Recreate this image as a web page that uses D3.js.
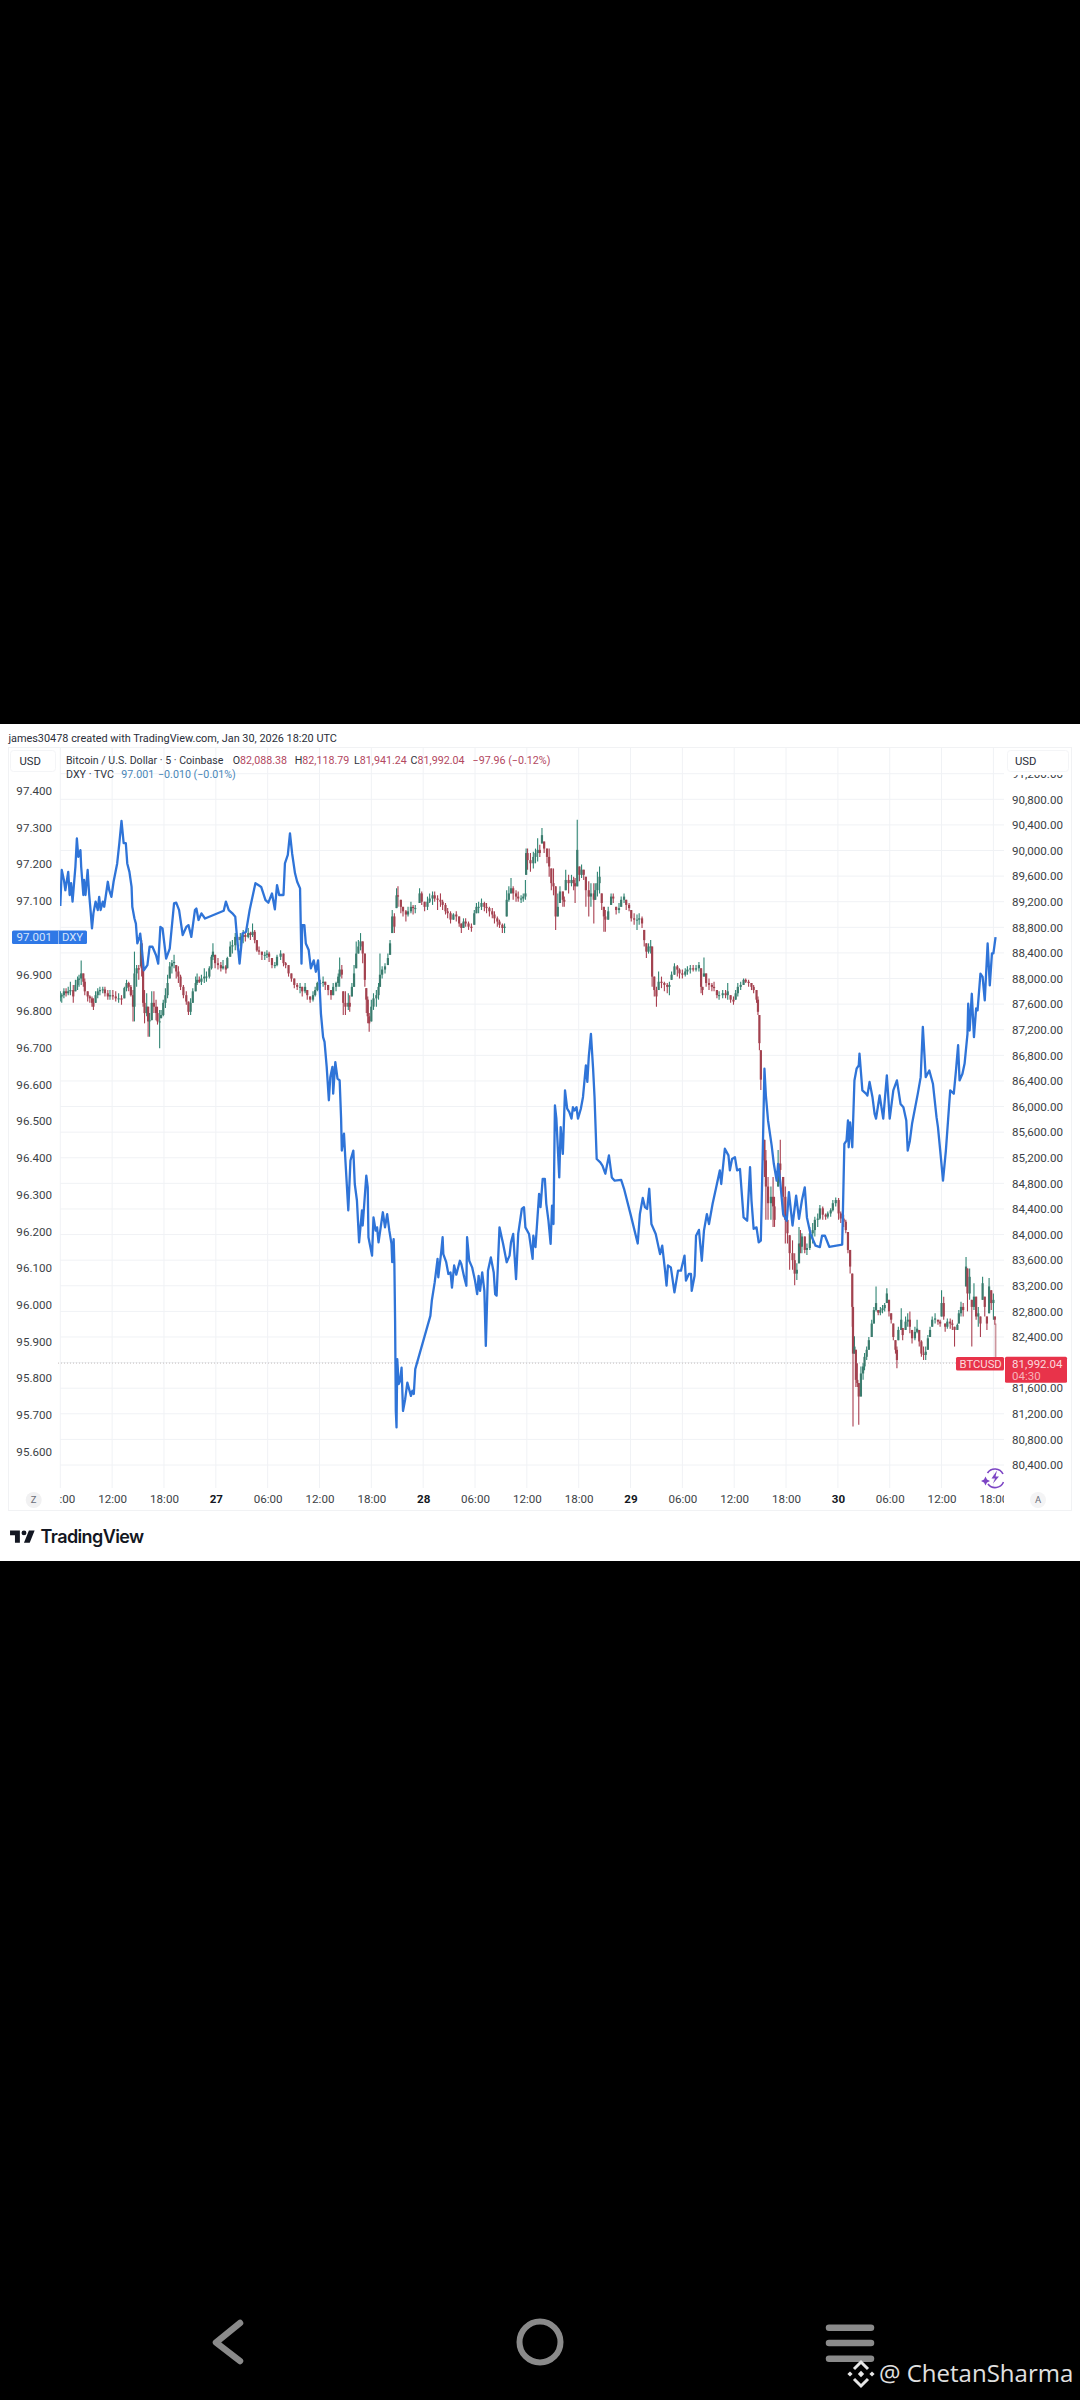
<!DOCTYPE html>
<html>
<head>
<meta charset="utf-8">
<style>
	html, body { margin: 0; padding: 0; background: #000; }
	svg { display: block; font-family: Roboto, "Liberation Sans", sans-serif; }
	.axis path, .axis line { display: none; }
	.axis text { fill: #3c3f46; font-family: Roboto, sans-serif; font-size: 11.6px; }
</style>
<script src="https://cdnjs.cloudflare.com/ajax/libs/d3/7.8.5/d3.min.js"></script>
</head>
<body>
<svg width="1080" height="2400"></svg>
<script>
// bar number = 5 minute bars counted from Jan 26 06:00
var btcBar = [
	0,2,5,8,11,14,18,21,24,26,
	29,32,34,38,41,44,46,49,52,55,
	59,62,66,69,73,77,81,85,89,92,
	95,98,101,103,106,109,112,113,115,117,
	120,122,124,127,130,133,135,138,140,143,
	146,149,152,155,158,161,164,167,171,175,
	178,181,184,188,190,193,196,200,203,207,
	210,212,215,219,223,226,230,232,236,239,
	243,246,250,254,257,261,264,267,270,273,
	276,280,284,287,290,294,298,301,306,310,
	313,317,321,325,329,333,336,340,343,347,
	351,354,357,361,365,368,372,376,379,383,
	386,388,391,393,396,400,402,405,408,411,
	414,417,420,423,425,427,429,432,435,439,
	442,444,447,451,455,458,461,464,467,469,
	473,476,480,483,487,490,493,499,502,506,
	510,513,517,520,524,528,531,535,538,542,
	546,550,554,557,560,563,567,571,575,578,
	581,585,589,592,596,600,603,607,610,614,
	617,620,623,626,629,633,636,640,643,646,
	647,649,653,657,660,663,666,669,672,676,
	679,682,685,688,691,694,698,700,702,706,
	710,713,715,718,721,724,727,730,734,737,
	741,743,746,749,752,755,757,761,765,768,
	772,776,779,783,786,790,793,797,801,804,
	808,811,814,817,820,822,825,828,831,835,
	839,843,846,849,853,857,860,864,868,871,
	875,879,883,887,890,892,894,897,901,905,
	908,912,915,920,924,927,931,935,938,941,
	945,949,952,956,960,963,967,969,971,973,
	978,980,983,987,990,992,997,1000,1004,1007,
	1010,1013,1017,1020,1023,1026,1028,1030,1034,1037,
	1041,1045,1048,1052,1055,1059,1063,1066,1070,1073,
	1077,1081,1084,1088,1091,1094,1097,1100,1101,1103,
	1105,1107,1109,1112,1115,1117,1120,1123,1127,1130,
	1133,1136,1139,1142,1145,1148,1151,1154,1157,1160,
	1162,1164,1168,1170,1174,1177,1180,1183,1187,1190,
	1193,1196,1199,1202,1205,1208,1211,1215,1219,1222,
	1224,1227,1229,1232,1236,1239,1242,1246,1248,1251,
	1254,1258,1260,1263,1266,1269,1272,1275,1278,1281,
	1284,1287,1290,1293,1296,1298,1299
];
var btcHigh = [
	87800,87770,87850,87850,87870,87950,87900,87980,88030,88060,
	88280,88080,88000,87800,87740,87720,87690,87800,87850,87870,
	87870,87870,87820,87820,87820,87800,87770,87740,87870,87980,
	87950,87900,87820,88420,88210,88210,88630,88600,88190,87820,
	87770,87560,87460,87800,87800,87670,87560,87510,87510,87670,
	87850,88060,88260,88290,88370,88210,88190,88060,87900,87800,
	87640,87690,87850,88030,88080,88030,88060,88160,88110,88190,
	88370,88550,88370,88320,88260,88290,88210,88340,88580,88600,
	88710,88680,88710,88760,88730,88790,88730,88860,88760,88600,
	88500,88420,88420,88440,88420,88320,88260,88370,88440,88390,
	88260,88210,88080,88000,87930,87930,87870,87930,87820,87720,
	87800,87870,87950,87980,88030,87950,87900,87820,87930,87950,
	88080,88330,88210,87800,87800,87770,87740,87930,88210,88580,
	88600,88710,88580,88390,87850,87720,87460,87670,87770,87820,
	87930,88390,88190,88240,88390,88600,89070,89020,89410,89440,
	89230,89120,89070,89120,89200,89150,89150,89410,89360,89200,
	89280,89330,89360,89360,89300,89330,89230,89180,89100,89050,
	89020,89050,88970,88860,88940,88940,88890,88860,89070,89180,
	89200,89250,89200,89180,89120,89100,89050,88970,88920,88860,
	88860,89380,89440,89570,89440,89380,89360,89300,89330,89540,
	90030,90030,89960,89980,90030,90190,90090,90350,90140,90030,
	90030,89720,89720,89440,89330,89440,89360,89280,89700,89620,
	89620,89590,89570,90480,89750,89780,89700,89590,89520,89490,
	89490,89490,89670,89750,89330,89120,89070,89120,89330,89330,
	89120,89180,89280,89330,89230,89180,89070,89020,89000,89020,
	88970,88760,88550,88550,88600,88500,88030,87870,88110,88030,
	87950,87930,87950,88110,88240,88210,88160,88140,88160,88190,
	88210,88210,88210,88260,88160,87870,88330,88080,88000,87930,
	87950,87820,87800,87820,87820,87930,87740,87720,87820,87930,
	87950,88000,88000,87980,87930,87900,87820,87720,87430,86880,
	85480,85320,84900,84750,84900,84590,85320,85480,84900,84750,
	84230,83990,83910,83710,83550,84120,84070,84020,83970,83860,
	84120,84180,84280,84330,84460,84440,84330,84360,84410,84540,
	84580,84570,84360,84310,84230,84040,83760,83390,82870,82410,
	82200,81990,81680,81940,81990,82150,82250,82400,82670,82870,
	83190,82820,82870,82900,82930,83160,82980,82770,82610,82350,
	82250,82560,82850,82540,82720,82770,82800,82510,82560,82670,
	82510,82350,82250,82250,82430,82560,82720,82770,82670,82670,
	83130,83030,82610,82690,82690,82670,82560,82610,82820,82950,
	82930,83650,83470,83470,82980,83240,83030,82870,82720,83340,
	83030,82720,83320,83130,83080,82720,82610
];
var btcLow = [
	87640,87620,87690,87720,87740,87740,87620,87800,87820,87870,
	87900,87870,87740,87640,87620,87560,87510,87620,87690,87740,
	87770,87720,87670,87670,87670,87640,87620,87590,87690,87800,
	87800,87720,87330,87330,87870,87980,88190,88030,87560,87300,
	87410,87090,87090,87350,87460,87350,87280,86910,87380,87410,
	87540,87690,88000,88080,88160,88000,87930,87820,87690,87590,
	87430,87430,87620,87800,87900,87930,87900,87930,87950,88000,
	88140,88290,88160,88140,88110,88140,88080,88160,88340,88390,
	88440,88440,88500,88550,88580,88630,88600,88650,88550,88420,
	88370,88290,88290,88320,88260,88160,88160,88190,88290,88190,
	88160,88030,87950,87850,87820,87770,87720,87770,87670,87620,
	87640,87720,87800,87850,87870,87820,87740,87670,87740,87800,
	87870,87870,88000,87430,87430,87510,87480,87720,87870,88160,
	88390,88440,88240,87870,87460,87300,87170,87330,87510,87560,
	87670,87870,88000,88080,88210,88370,88710,88710,89100,89120,
	89020,88970,88890,88970,89020,89000,89020,89180,89150,89050,
	89070,89180,89150,89200,89070,89120,89070,89000,88940,88860,
	88920,88890,88810,88710,88790,88810,88760,88730,88840,89020,
	89020,89070,89050,89020,88970,88940,88860,88810,88790,88710,
	88710,88970,89200,89330,89230,89200,89200,89180,89200,89230,
	89620,89700,89670,89720,89800,89830,89900,90110,89960,89800,
	89590,89380,89300,88760,88970,89180,89120,89120,89380,89330,
	89440,89380,89180,89440,89520,89570,89540,89120,88970,89120,
	88860,89230,89280,89330,89070,88730,88730,88920,89150,89180,
	89000,89020,89120,89180,89070,89050,88890,88840,88760,88840,
	88790,88500,88320,88390,88390,87870,87720,87560,87820,87850,
	87800,87770,87740,87980,88060,88030,88000,88000,88030,88060,
	88080,88110,88110,88110,87770,87740,88030,87870,87820,87800,
	87800,87690,87670,87690,87690,87670,87620,87590,87670,87720,
	87820,87900,87930,87870,87820,87770,87620,87430,86880,86260,
	84900,84230,84230,84230,84120,84120,84750,84800,84280,83860,
	83860,83450,83450,83210,83290,83550,83710,83710,83710,83680,
	83760,83860,83970,84120,84230,84230,84230,84250,84280,84360,
	84440,84230,84180,84120,84020,83710,83390,82560,81000,82140,
	81620,81620,81030,81470,81730,81880,82040,82200,82400,82610,
	82800,82740,82740,82770,82800,82930,82720,82610,82350,82140,
	81910,82350,82510,82350,82510,82560,82460,82300,82350,82460,
	82250,82090,82040,82040,82200,82400,82560,82610,82590,82560,
	82720,82670,82480,82530,82530,82510,82250,82510,82610,82720,
	82720,83190,82800,82980,82250,82820,82670,82560,82400,82980,
	82720,82510,82770,82820,82670,82590,81941
];
var btcClose = [
	87720,87740,87800,87770,87800,87820,87720,87900,87980,88000,
	88080,87950,87800,87720,87690,87620,87560,87740,87800,87820,
	87830,87770,87720,87740,87720,87690,87690,87670,87850,87930,
	87870,87740,87560,88080,88160,88140,88550,88160,87620,87460,
	87560,87330,87350,87620,87560,87460,87330,87330,87430,87620,
	87740,87930,88190,88240,88260,88110,88030,87870,87740,87640,
	87480,87620,87800,87930,87980,87950,88000,88030,88030,88160,
	88340,88420,88240,88210,88160,88190,88140,88320,88500,88520,
	88650,88600,88650,88680,88650,88710,88680,88730,88600,88440,
	88420,88370,88370,88390,88340,88210,88210,88340,88390,88240,
	88210,88080,88000,87900,87870,87870,87800,87870,87740,87670,
	87740,87820,87930,87930,87950,87900,87820,87740,87870,87930,
	88030,88140,88060,87620,87560,87620,87560,87870,88080,88390,
	88500,88580,88390,87980,87670,87410,87300,87560,87690,87740,
	87870,88060,88140,88190,88320,88550,88970,88810,89300,89280,
	89120,89050,89000,89050,89120,89100,89100,89330,89200,89120,
	89200,89250,89300,89250,89230,89200,89150,89050,89020,88920,
	89000,88970,88860,88790,88890,88860,88810,88790,89020,89120,
	89120,89180,89120,89100,89050,89000,88940,88890,88840,88790,
	88810,89230,89330,89410,89330,89280,89250,89250,89280,89330,
	89960,89850,89800,89900,89960,90010,89960,90240,90030,89900,
	89750,89490,89440,88970,89120,89360,89230,89200,89540,89490,
	89540,89490,89440,90010,89620,89700,89620,89380,89280,89330,
	89230,89380,89490,89590,89180,88970,88920,89050,89280,89250,
	89070,89100,89230,89280,89150,89100,88940,88920,88920,88940,
	88860,88600,88420,88500,88500,88030,87820,87720,87950,87930,
	87900,87870,87900,88060,88190,88140,88080,88060,88110,88140,
	88160,88140,88160,88210,87870,87820,88080,87930,87900,87870,
	87850,87740,87740,87770,87740,87800,87670,87640,87770,87870,
	87900,87980,87950,87930,87870,87820,87670,87480,86990,86420,
	85160,84750,84490,84590,84440,84230,85110,85010,84590,84230,
	84020,83710,83600,83390,83450,83860,83810,83970,83760,83790,
	84020,84070,84230,84250,84410,84310,84280,84330,84380,84490,
	84540,84330,84250,84200,84070,83760,83500,82870,82140,82250,
	81730,81680,81470,81830,81940,82090,82200,82350,82610,82820,
	82930,82780,82820,82850,82900,83080,82800,82670,82400,82200,
	82040,82510,82670,82430,82640,82670,82560,82380,82480,82530,
	82330,82140,82120,82170,82380,82510,82670,82690,82640,82610,
	82930,82720,82560,82640,82610,82590,82510,82590,82770,82870,
	82820,83500,83080,83340,82870,83030,82720,82770,82610,83240,
	82870,82610,83190,82930,82980,82670,81992
];
var dxyBar = [
	0,2,5,7,11,13,15,17,21,23,
	25,28,29,32,33,35,38,40,42,44,
	46,49,52,54,56,59,61,66,68,71,
	74,79,82,85,88,91,93,96,99,100,
	103,105,107,110,111,113,116,121,124,128,
	133,136,139,142,147,152,158,161,165,170,
	175,178,182,187,189,192,196,201,227,230,
	234,239,243,245,249,253,258,263,271,275,
	279,285,289,294,298,301,304,310,312,316,
	319,322,326,329,333,334,335,336,339,341,
	345,348,352,355,358,360,362,365,367,370,
	373,375,378,379,382,385,388,390,391,394,
	396,400,403,407,409,412,415,419,420,425,
	427,428,433,435,438,440,442,445,448,451,
	454,457,460,461,463,464,465,466,467,468,
	470,472,474,476,479,482,487,489,491,493,
	514,516,520,524,525,529,531,532,536,539,
	542,544,547,550,555,557,561,564,565,568,
	572,576,579,581,583,586,589,591,594,598,
	602,604,606,610,613,615,620,624,626,629,
	633,636,641,644,646,651,656,657,660,665,
	667,670,673,675,678,681,683,685,687,689,
	693,695,698,701,704,707,710,712,714,717,
	719,723,726,730,732,734,737,740,742,745,
	750,753,757,762,766,770,779,783,792,802,
	805,809,812,815,818,821,827,833,836,840,
	842,844,848,853,858,862,867,869,873,876,
	877,881,883,887,891,894,898,901,906,911,
	916,918,923,928,930,933,937,940,944,949,
	954,958,960,963,967,970,973,976,978,980,
	983,988,991,995,997,1000,1004,1009,1012,1017,
	1022,1026,1030,1034,1037,1042,1049,1055,1058,1062,
	1068,1086,1089,1092,1094,1095,1097,1100,1103,1106,
	1109,1110,1114,1119,1121,1124,1128,1131,1133,1138,
	1143,1148,1152,1157,1162,1167,1171,1175,1177,1180,
	1183,1191,1195,1198,1202,1207,1212,1217,1219,1223,
	1226,1230,1233,1236,1241,1244,1247,1249,1253,1256,
	1260,1261,1263,1266,1269,1272,1274,1278,1281,1284,
	1288,1291,1294,1296,1299
];
var dxyValue = [
	97.086,97.184,97.157,97.129,97.179,97.116,97.148,97.098,97.193,97.270,
	97.220,97.238,97.193,97.116,97.157,97.116,97.184,97.120,97.075,97.025,
	97.066,97.098,97.075,97.111,97.075,97.098,97.084,97.152,97.129,97.111,
	97.152,97.202,97.257,97.318,97.257,97.257,97.202,97.179,97.138,97.084,
	97.052,97.038,96.984,97.002,97.011,96.975,96.911,96.925,96.975,96.975,
	96.952,96.929,97.029,97.025,96.943,96.970,97.093,97.095,97.075,97.007,
	97.029,97.034,97.002,97.075,97.079,97.048,97.066,97.052,97.073,97.098,
	97.075,97.066,97.057,97.011,96.929,97.011,97.016,97.075,97.148,97.143,
	97.138,97.102,97.095,97.120,97.077,97.143,97.116,97.116,97.202,97.225,
	97.284,97.229,97.175,97.152,97.134,97.029,96.929,97.034,97.034,96.984,
	96.966,96.916,96.938,96.907,96.938,96.875,96.793,96.729,96.716,96.648,
	96.557,96.620,96.648,96.575,96.661,96.616,96.611,96.507,96.420,96.466,
	96.393,96.257,96.393,96.420,96.329,96.284,96.170,96.257,96.216,96.352,
	96.320,96.184,96.134,96.238,96.202,96.211,96.170,96.211,96.252,96.211,
	96.247,96.202,96.166,96.116,96.179,96.111,95.957,95.711,95.666,95.852,
	95.784,95.793,95.829,95.711,95.743,95.788,95.752,95.766,95.757,95.825,
	95.970,96.011,96.061,96.125,96.075,96.143,96.184,96.138,96.116,96.084,
	96.088,96.047,96.107,96.082,96.120,96.111,96.075,96.052,96.184,96.120,
	96.102,96.066,96.029,96.079,96.038,96.088,96.038,95.888,96.093,96.129,
	96.088,96.029,96.025,96.211,96.184,96.166,96.116,96.134,96.170,96.193,
	96.070,96.193,96.261,96.266,96.211,96.193,96.125,96.188,96.157,96.302,
	96.266,96.343,96.343,96.275,96.229,96.166,96.270,96.220,96.543,96.507,
	96.347,96.484,96.411,96.584,96.534,96.525,96.507,96.538,96.529,96.538,
	96.507,96.534,96.566,96.652,96.607,96.675,96.738,96.643,96.566,96.397,
	96.388,96.379,96.357,96.407,96.347,96.338,96.340,96.316,96.247,96.167,
	96.247,96.291,96.266,96.261,96.316,96.220,96.193,96.138,96.161,96.093,
	96.052,96.107,96.102,96.034,96.093,96.093,96.134,96.066,96.084,96.084,
	96.038,96.079,96.188,96.204,96.120,96.202,96.247,96.220,96.275,96.320,
	96.366,96.329,96.425,96.407,96.366,96.397,96.402,96.366,96.370,96.238,
	96.229,96.375,96.284,96.207,96.211,96.170,96.175,96.447,96.643,96.570,
	96.502,96.434,96.384,96.338,96.384,96.334,96.247,96.229,96.307,96.216,
	96.297,96.234,96.284,96.320,96.238,96.193,96.161,96.157,96.188,96.188,
	96.158,96.164,96.438,96.447,96.502,96.429,96.497,96.429,96.611,96.643,
	96.652,96.684,96.584,96.575,96.570,96.607,96.566,96.520,96.507,96.570,
	96.507,96.625,96.507,96.584,96.611,96.547,96.538,96.502,96.420,96.447,
	96.493,96.575,96.620,96.757,96.620,96.638,96.602,96.511,96.484,96.402,
	96.338,96.420,96.502,96.584,96.575,96.638,96.707,96.611,96.629,96.657,
	96.738,96.820,96.747,96.847,96.729,96.807,96.802,96.902,96.893,96.829,
	96.984,96.870,96.957,96.957,97.001
];
var dxyTicks = [97.4,97.3,97.2,97.1,96.9,96.8,96.7,96.6,96.5,96.4,96.3,96.2,96.1,96.0,95.9,95.8,95.7,95.6];
var btcTicks = [91200,90800,90400,90000,89600,89200,88800,88400,88000,87600,87200,86800,86400,86000,85600,85200,84800,84400,84000,83600,83200,82800,82400,82000,81600,81200,80800,80400];
var timeBars = [0,72,144,216,288,360,432,504,576,648,720,792,864,936,1008,1080,1152,1224,1296];
var timeLabels = ['06:00','12:00','18:00','27','06:00','12:00','18:00','28','06:00','12:00','18:00','29','06:00','12:00','18:00','30','06:00','12:00','18:00'];
var lastPrice = 81992.04;

var svg = d3.select('svg');

var x = d3.scaleLinear().domain([0, 1296]).range([60.3, 993.4]);
var yBtc = d3.scaleLinear().domain([90800, 80400]).range([799.3, 1465]);
var yDxy = d3.scaleLinear().domain([97.4, 95.6]).range([790.7, 1451.7]);

var red = '#a93f50', green = '#2f8573', blue = '#2f74d8', gridColor = '#f0f2f5';

// white card
svg.append('rect').attr('x', 0).attr('y', 724).attr('width', 1080).attr('height', 837).attr('fill', '#fff');
svg.append('rect').attr('x', 8.5).attr('y', 747.5).attr('width', 1063).attr('height', 763)
	.attr('fill', 'none').attr('stroke', '#f1f2f4');

var defs = svg.append('defs');
defs.append('clipPath').attr('id', 'plotClip').append('rect').attr('x', 60).attr('y', 748).attr('width', 944).attr('height', 740);
defs.append('clipPath').attr('id', 'timeClip').append('rect').attr('x', 59.5).attr('y', 1488).attr('width', 944.5).attr('height', 22);
defs.append('clipPath').attr('id', 'rightClip').append('rect').attr('x', 1005).attr('y', 775).attr('width', 66).attr('height', 713);
defs.append('clipPath').attr('id', 'iconClip').append('rect').attr('x', 975).attr('y', 1460).attr('width', 29).attr('height', 30);

// grid
svg.append('g').selectAll('line').data(btcTicks).enter().append('line')
	.attr('x1', 60).attr('x2', 1004)
	.attr('y1', function (d) { return yBtc(d); })
	.attr('y2', function (d) { return yBtc(d); })
	.attr('stroke', gridColor);
svg.append('g').selectAll('line').data(timeBars).enter().append('line')
	.attr('x1', function (d) { return x(d); })
	.attr('x2', function (d) { return x(d); })
	.attr('y1', 748).attr('y2', 1488)
	.attr('stroke', gridColor);

// dotted last price line
svg.append('line').attr('x1', 58).attr('x2', 956)
	.attr('y1', yBtc(lastPrice)).attr('y2', yBtc(lastPrice))
	.attr('stroke', '#c4bebe').attr('stroke-dasharray', '1 2');

var plot = svg.append('g').attr('clip-path', 'url(#plotClip)');

// candles, open is the close before
var candles = btcBar.map(function (b, i) {
	var prev = i > 0 ? btcClose[i - 1] : btcClose[0];
	var open = Math.min(Math.max(prev, btcLow[i]), btcHigh[i]);
	return { bar: b, high: btcHigh[i], low: btcLow[i], close: btcClose[i], open: open, last: i == btcBar.length - 1 };
});
plot.append('g').selectAll('line').data(candles).enter().append('line')
	.attr('x1', function (d) { return x(d.bar); })
	.attr('x2', function (d) { return x(d.bar); })
	.attr('y1', function (d) { return yBtc(d.high); })
	.attr('y2', function (d) { return yBtc(d.low); })
	.attr('stroke-width', 1.1)
	.attr('stroke', function (d) { return d.close >= d.open ? green : red; })
	.attr('opacity', function (d) { return d.last ? 0.35 : 1; });
plot.append('g').selectAll('rect').data(candles).enter().append('rect')
	.attr('x', function (d) { return x(d.bar) - 1.1; })
	.attr('width', 2.2)
	.attr('y', function (d) { return yBtc(Math.max(d.open, d.close)); })
	.attr('height', function (d) { return Math.max(1, Math.abs(yBtc(d.open) - yBtc(d.close))); })
	.attr('fill', function (d) { return d.close >= d.open ? '#3b7c6e' : '#a2424f'; })
	.attr('opacity', function (d) { return d.last ? 0.3 : 1; });

// DXY line
var dxyLine = d3.line()
	.x(function (d) { return x(d); })
	.y(function (d, i) { return yDxy(dxyValue[i]); });
plot.append('path').attr('d', dxyLine(dxyBar))
	.attr('fill', 'none').attr('stroke', blue).attr('stroke-width', 2.3).attr('stroke-linejoin', 'round');

// axes
svg.append('g').attr('class', 'axis').attr('transform', 'translate(60,0)')
	.call(d3.axisLeft(yDxy).tickValues(dxyTicks).tickFormat(d3.format('.3f')).tickSize(0).tickPadding(8))
	.select('.domain').remove();
svg.append('g').attr('class', 'axis').attr('clip-path', 'url(#rightClip)')
	.append('g').attr('transform', 'translate(1004,0)')
	.call(d3.axisRight(yBtc).tickValues(btcTicks).tickFormat(d3.format(',.2f')).tickSize(0).tickPadding(8))
	.select('.domain').remove();
var timeAxis = svg.append('g').attr('class', 'axis').attr('clip-path', 'url(#timeClip)')
	.append('g').attr('transform', 'translate(0,1495)')
	.call(d3.axisBottom(x).tickValues(timeBars).tickFormat(function (d, i) { return timeLabels[i]; }).tickSize(0).tickPadding(0));
timeAxis.select('.domain').remove();
timeAxis.selectAll('text')
	.attr('font-weight', function (d, i) { return timeLabels[i].length == 2 ? 700 : 400; })
	.style('font-weight', function (d, i) { return timeLabels[i].length == 2 ? 700 : 400; })
	.style('fill', function (d, i) { return timeLabels[i].length == 2 ? '#131722' : null; });

function label(px, py, str, color, size, weight) {
	return svg.append('text').attr('x', px).attr('y', py).attr('dy', '0.35em')
		.attr('fill', color).attr('font-size', size || 11.3).attr('font-weight', weight || 400).text(str);
}

// header text
label(8.4, 737.7, 'james30478 created with TradingView.com, Jan 30, 2026 18:20 UTC', '#2a2e39', 10.9);
label(66, 760.5, 'Bitcoin / U.S. Dollar \u00b7 5 \u00b7 Coinbase', '#2f3340', 10.6);
var ohlcLetters = ['O', 'H', 'L', 'C'];
var ohlcValues = ['82,088.38', '82,118.79', '81,941.24', '81,992.04'];
var ohlcX = [232.7, 294.7, 354, 410.6];
ohlcLetters.forEach(function (l, i) {
	var t = label(ohlcX[i], 760.5, l, '#2f3340', 10.7);
	t.append('tspan').attr('fill', '#b3485f').text(ohlcValues[i]);
});
label(472.6, 760.5, '\u221297.96 (\u22120.12%)', '#b3485f', 10.7);
label(66, 774.6, 'DXY \u00b7 TVC', '#2f3340', 10.7);
label(121.3, 774.6, '97.001', '#4a86b8', 10.7);
label(158, 774.6, '\u22120.010 (\u22120.01%)', '#4a86b8', 10.7);

// USD boxes
svg.append('rect').attr('x', 10.5).attr('y', 750.5).attr('width', 45).attr('height', 21).attr('rx', 3)
	.attr('fill', '#fff').attr('stroke', '#f4f5f7');
label(19.5, 761, 'USD', '#2a2e39', 11.3);
svg.append('rect').attr('x', 1007.5).attr('y', 750.5).attr('width', 61).attr('height', 21).attr('rx', 3)
	.attr('fill', '#fff').attr('stroke', '#f4f5f7');
label(1015, 761, 'USD', '#2a2e39', 11.3);

// DXY tag on left axis
svg.append('rect').attr('x', 12).attr('y', yDxy(97.001) - 6.8).attr('width', 75).attr('height', 13.6).attr('rx', 1.5).attr('fill', '#2f78e6');
svg.append('line').attr('x1', 58.5).attr('x2', 58.5).attr('y1', yDxy(97.001) - 6.8).attr('y2', yDxy(97.001) + 6.8).attr('stroke', '#8db6f2');
label(16.5, yDxy(97.001), '97.001', '#d5e4fb', 11.5);
label(62, yDxy(97.001), 'DXY', '#d5e4fb', 11.3);

// BTC tags
svg.append('rect').attr('x', 956).attr('y', 1357).attr('width', 48).attr('height', 13.6).attr('rx', 1.5).attr('fill', '#e8334a');
label(959.5, 1364, 'BTCUSD', '#fbd9dd', 11.3);
svg.append('rect').attr('x', 1005).attr('y', 1356.7).attr('width', 62).attr('height', 26).attr('rx', 1.5).attr('fill', '#e8334a');
label(1012, 1363.8, '81,992.04', '#fbd9dd', 11.5);
label(1012, 1375.5, '04:30', '#f7b3bb', 11.5);

// Z and A buttons
svg.append('circle').attr('cx', 33.7).attr('cy', 1500).attr('r', 8).attr('fill', '#f1f1f2');
label(33.7, 1499.5, 'Z', '#6a6d78', 9.5).attr('text-anchor', 'middle');
svg.append('circle').attr('cx', 1038).attr('cy', 1500).attr('r', 8).attr('fill', '#f4f4f5');
label(1038, 1499.5, 'A', '#6a6d78', 9.5).attr('text-anchor', 'middle');

// purple icon
var icon = svg.append('g').attr('clip-path', 'url(#iconClip)');
icon.append('path').attr('d', 'M987.5 1473 A9 9 0 0 1 1003 1474').attr('fill', 'none').attr('stroke', '#7c44c4').attr('stroke-width', 1.6);
icon.append('path').attr('d', 'M1003.5 1482 A9 9 0 0 1 988 1484').attr('fill', 'none').attr('stroke', '#7c44c4').attr('stroke-width', 1.6);
icon.append('path').attr('d', 'M997 1470.5 L991.5 1478.5 L995 1478.5 L993 1483.5 L999 1476.5 L995.5 1476.5 Z').attr('fill', '#7c44c4');
icon.append('path').attr('d', 'M985.5 1476.5 L987 1479.5 L990 1481 L987 1482.5 L985.5 1485.5 L984 1482.5 L981 1481 L984 1479.5 Z').attr('fill', '#7c44c4');

// TradingView logo
svg.append('path').attr('transform', 'translate(8.4,1525.5) scale(0.82)')
	.attr('d', 'M14 6H2v6h6v9h6V6Zm12 15h-7l6-15h7l-6 15Zm-7-9a3 3 0 1 0 0-6 3 3 0 0 0 0 6Z')
	.attr('fill', '#131722');
label(40.5, 1536.5, 'TradingView', '#131722', 18, 600).style('font-family', 'Inter, Roboto, sans-serif').style('letter-spacing', '-0.6px');

// phone nav bar
var navGrey = '#8a8a8a';
svg.append('path').attr('d', 'M240 2323 L216 2342.5 L240 2361').attr('fill', 'none').attr('stroke', navGrey).attr('stroke-width', 6.5).attr('stroke-linecap', 'round').attr('stroke-linejoin', 'round');
svg.append('circle').attr('cx', 540).attr('cy', 2342).attr('r', 20.5).attr('fill', 'none').attr('stroke', navGrey).attr('stroke-width', 6);
svg.append('g').selectAll('line').data([2327.7, 2343, 2358.7]).enter().append('line')
	.attr('x1', 829).attr('x2', 871)
	.attr('y1', function (d) { return d; })
	.attr('y2', function (d) { return d; })
	.attr('stroke', navGrey).attr('stroke-width', 6.5).attr('stroke-linecap', 'round');

// watermark
var binance = svg.append('g').attr('transform', 'translate(861,2374)');
binance.append('path').attr('d', 'M-7 -5 L0 -12 L7 -5 M-7 5 L0 12 L7 5').attr('fill', 'none').attr('stroke', '#e6e6e6').attr('stroke-width', 3);
var diamonds = [[-11, 0, 2.6], [11, 0, 2.6], [0, 0, 3.2]];
diamonds.forEach(function (d) {
	binance.append('path').attr('fill', '#e6e6e6').attr('d', 'M' + d[0] + ' ' + (d[1] - d[2]) + ' L' + (d[0] + d[2]) + ' ' + d[1] + ' L' + d[0] + ' ' + (d[1] + d[2]) + ' L' + (d[0] - d[2]) + ' ' + d[1] + ' Z');
});
label(879, 2374, '@ ChetanSharma', '#e0e0e0', 24).style('font-family', '"Open Sans", sans-serif');
</script>
</body>
</html>
